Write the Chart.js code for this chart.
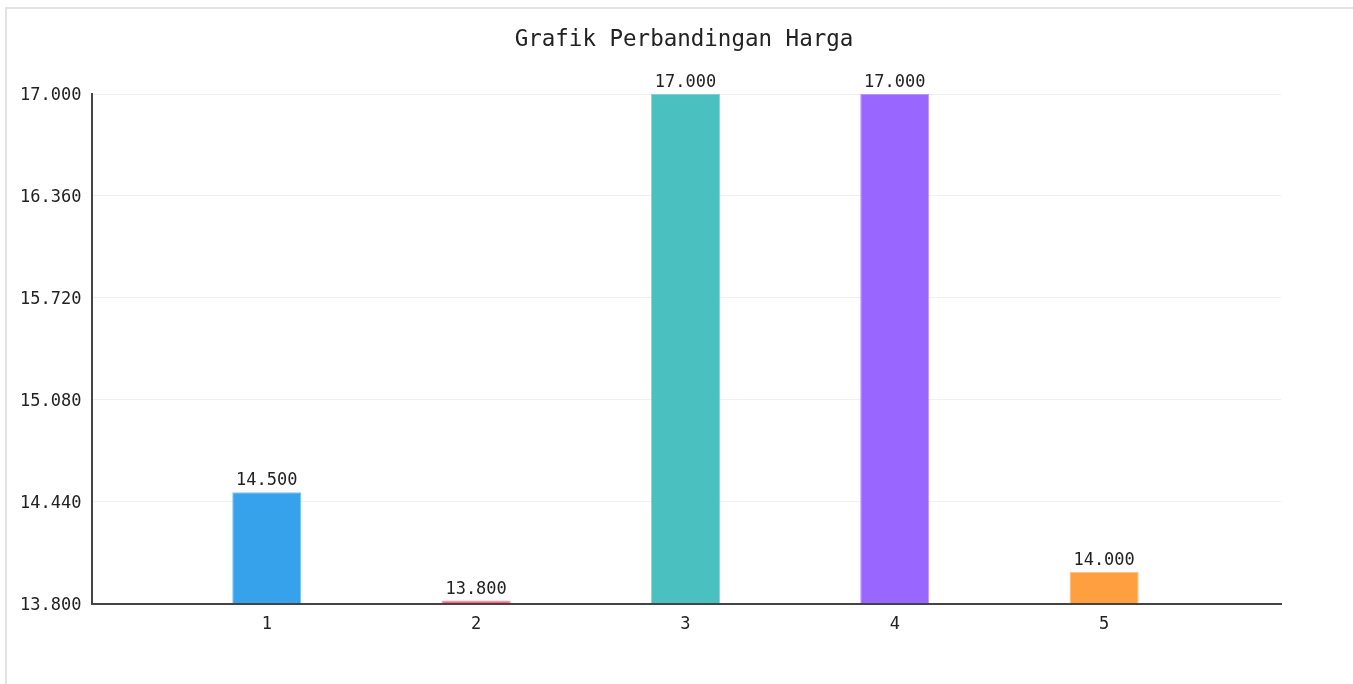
<!DOCTYPE html>
<html>
<head>
<meta charset="utf-8">
<script src="https://cdn.jsdelivr.net/npm/chart.js@4.4.1/dist/chart.umd.min.js"></script>
<style>
  html, body { margin: 0; padding: 0; background: #fff; overflow: hidden; }
  .card {
    position: absolute; left: 5px; top: 7px;
    width: 1400px; height: 720px;
    border: 2px solid #e3e3e3; box-sizing: border-box;
  }
  #chart { position: absolute; left: 7px; top: 9px; }
</style>
</head>
<body>
<div class="card"></div>
<canvas id="chart" width="1356" height="680"></canvas>
<script>
const LABELS  = [1, 2, 3, 4, 5];
const PRICES  = [14500, 13800, 17000, 17000, 14000];
const COLORS  = ['#36A2EB', '#FF6384', '#4BC0C0', '#9966FF', '#FF9F40'];
const Y_TICKS = [13800, 14440, 15080, 15720, 16360, 17000];

const FONT       = "'DejaVu Sans Mono', 'Liberation Mono', monospace";
const TEXT_COLOR = '#222';
const AXIS_COLOR = '#444';

// dot as thousands separator, like id-ID
function fmt(v) {
  return String(Math.round(v)).replace(/\B(?=(\d{3})+(?!\d))/g, '.');
}

const valueLabels = {
  id: 'valueLabels',
  afterDatasetsDraw(chart) {
    const { ctx } = chart;
    const meta = chart.getDatasetMeta(0);
    ctx.save();
    ctx.font = `17px ${FONT}`;
    ctx.fillStyle = TEXT_COLOR;
    ctx.textAlign = 'center';
    ctx.textBaseline = 'bottom';
    meta.data.forEach((bar, i) => {
      ctx.fillText(fmt(PRICES[i]), bar.x, bar.y - 3);
    });
    ctx.restore();
  },
};

new Chart(document.getElementById('chart'), {
  type: 'bar',
  data: {
    datasets: [{
      data: LABELS.map((x, i) => ({ x, y: PRICES[i] })),
      backgroundColor: COLORS,
      borderColor: COLORS.map((c) => c + 'aa'),
      borderWidth: 1,
      base: Y_TICKS[0],
      minBarLength: 3,
      barPercentage: 0.33,
      categoryPercentage: 1,
    }],
  },
  options: {
    responsive: false,
    animation: false,
    layout: { padding: { left: 10, right: 12, top: 0, bottom: 51 } },
    plugins: {
      legend: { display: false },
      tooltip: { enabled: false },
      title: {
        display: true,
        text: 'Grafik Perbandingan Harga',
        color: TEXT_COLOR,
        font: { family: FONT, size: 22.5, weight: 'normal' },
        padding: { top: 18, bottom: 40 },
      },
    },
    scales: {
      x: {
        type: 'linear',
        offset: false,
        min: 0.167,
        max: 5.845,
        afterBuildTicks: (scale) => { scale.ticks = LABELS.map((v) => ({ value: v })); },
        ticks: {
          color: TEXT_COLOR,
          font: { family: FONT, size: 17 },
          callback: (v) => String(v),
        },
        grid: { display: false },
        border: { color: AXIS_COLOR, width: 2 },
      },
      y: {
        min: 13800,
        max: 17000,
        afterBuildTicks: (scale) => { scale.ticks = Y_TICKS.map((v) => ({ value: v })); },
        ticks: {
          color: TEXT_COLOR,
          font: { family: FONT, size: 17 },
          labelOffset: 2,
          callback: (v) => fmt(v),
        },
        grid: { color: 'rgba(0,0,0,0.06)', tickColor: 'transparent' },
        border: { color: AXIS_COLOR, width: 2 },
      },
      // empty axis on the right, keeps the plot symmetric under the title
      yRight: {
        position: 'right',
        ticks: { display: false },
        grid: { display: false },
        border: { display: false },
        afterFit: (scale) => { scale.width = 70; },
      },
    },
  },
  plugins: [valueLabels],
});
</script>
</body>
</html>
